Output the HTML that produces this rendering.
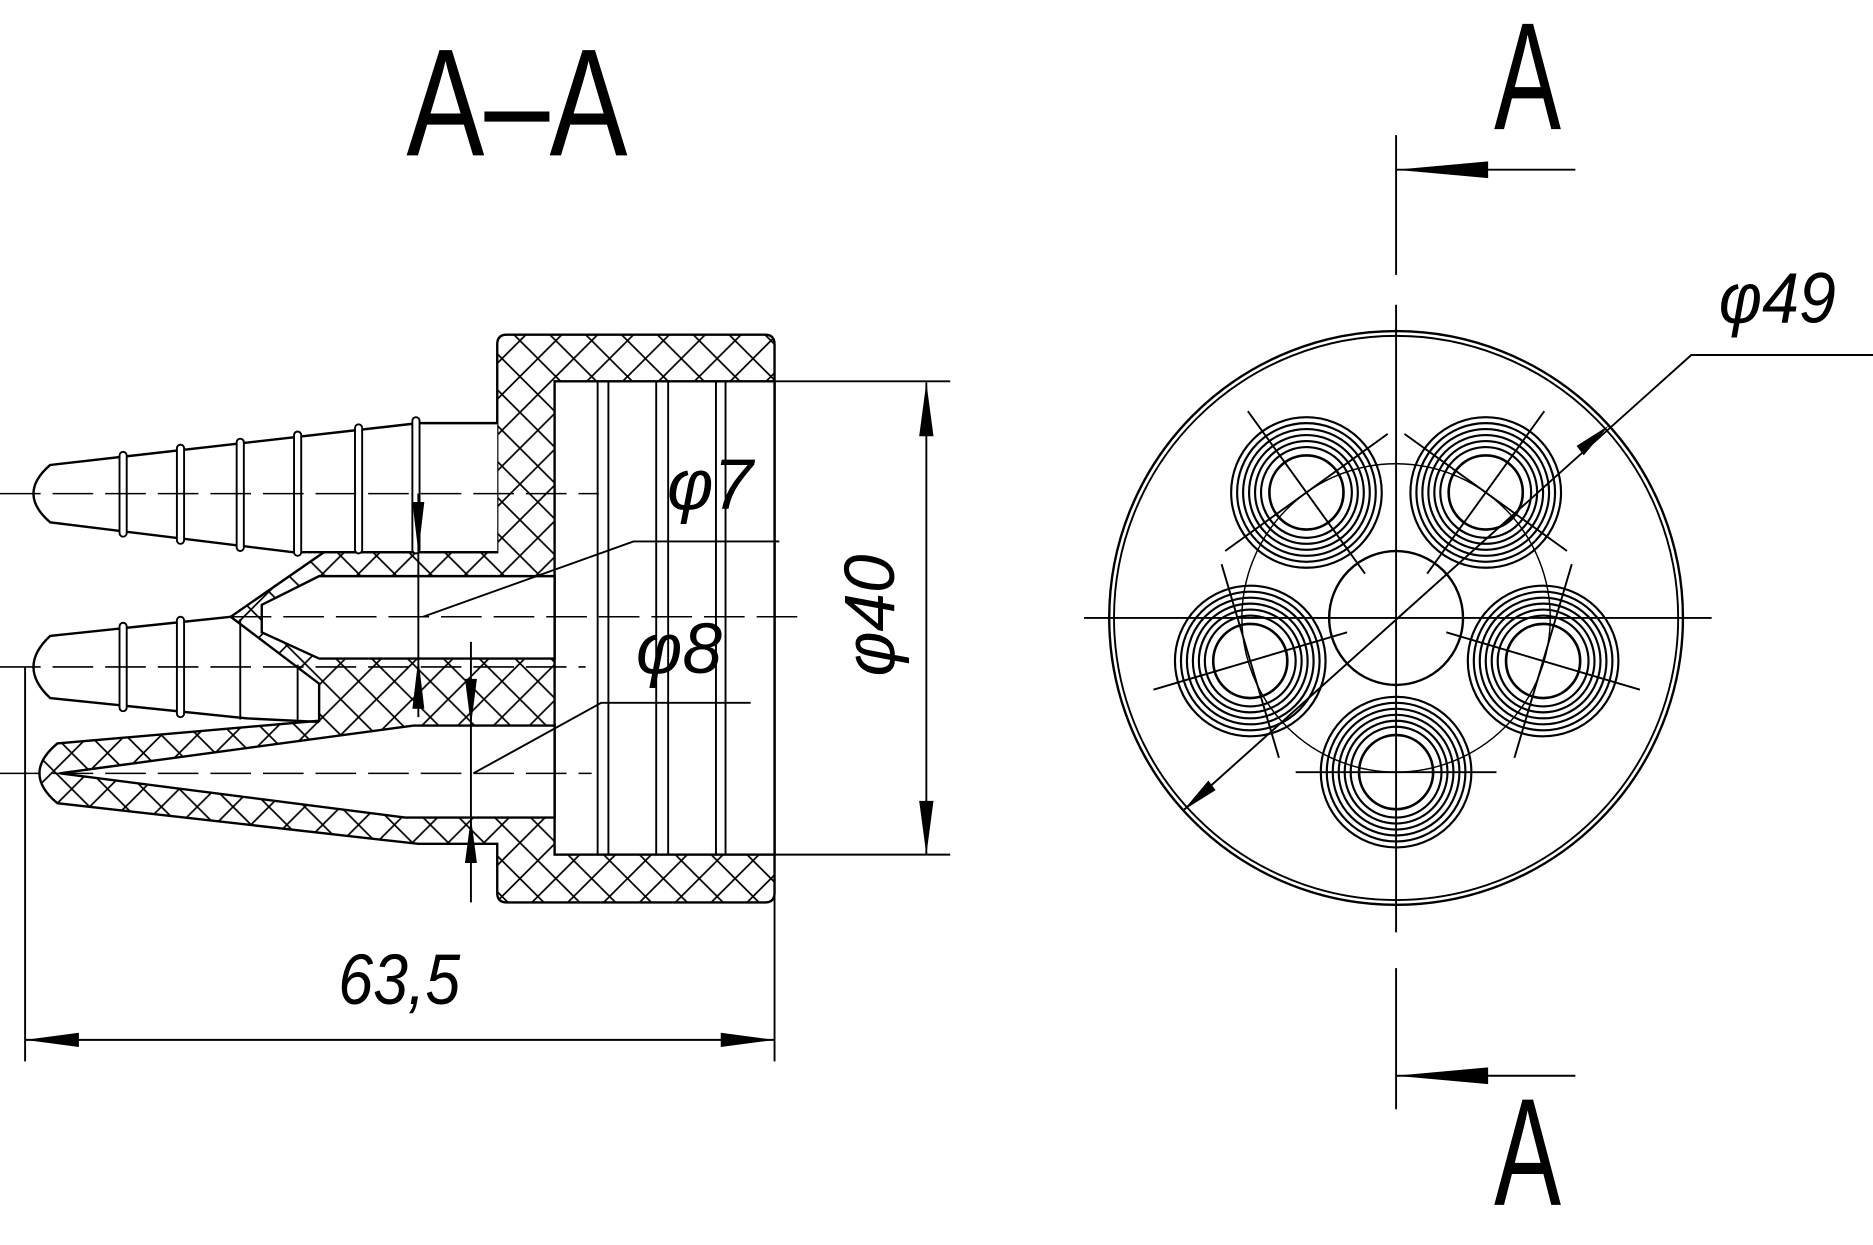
<!DOCTYPE html>
<html><head><meta charset="utf-8"><style>html,body{margin:0;padding:0;background:#fff}svg{display:block}</style></head>
<body>
<svg width="1873" height="1245" viewBox="0 0 1567 1041.6" xmlns="http://www.w3.org/2000/svg" font-family="Liberation Sans, sans-serif">
<defs>
<pattern id="h" patternUnits="userSpaceOnUse" width="30" height="30">
<path d="M0,0L30,30M0,30L30,0M-2,2L2,-2M28,32L32,28" stroke="#000" stroke-width="1.4"/>
</pattern>
</defs>
<rect width="1567" height="1042" fill="#fff"/>
<g stroke="#000" fill="none" stroke-width="1.6">
<path d="M424,280 L640,280 Q648,280 648,288 L648,747 Q648,755 640,755 L424,755 Q416,755 416,747 L416,706 L350,706 L48,672 Q18,647 48,622 L267,603 L267,572 L193,516 L271,462 L416,462 L416,288 Q416,280 424,280 Z" fill="url(#h)" stroke-width="2"/>
<rect x="464" y="319" width="184" height="396" fill="#fff" stroke-width="2"/>
<path d="M267,482 L464,482 L464,551 L267,551 L219,529 L219,506 Z" fill="#fff" stroke-width="2"/>
<path d="M50,647 L346,607 L464,607 L464,684 L339,684 Z" fill="#fff" stroke-width="2"/>
<path d="M500,319V715M509,319V715M549,319V715M559,319V715M599,319V715M607,319V715"/>
<path d="M416,354 L350,354 L42,389 Q14,413 42,437 L245,462 L416,462" fill="#fff" stroke-width="2"/>
<g fill="#fff">
<rect x="100" y="378" width="6" height="71" rx="3"/>
<rect x="148" y="372" width="6" height="83" rx="3"/>
<rect x="198" y="367" width="6" height="94" rx="3"/>
<rect x="246" y="361" width="6" height="104" rx="3"/>
<rect x="297" y="355" width="6" height="108" rx="3"/>
<rect x="345" y="349" width="6" height="114" rx="3"/>
</g>
<path d="M193,516 L42,532 Q14,558 42,584 L206,601 L267,604" stroke-width="2"/>
<g fill="#fff">
<rect x="100" y="521" width="6" height="74" rx="3"/>
<rect x="148" y="516" width="6" height="84" rx="3"/>
</g>
<path d="M201,518V602M249,556V604"/>
<g stroke-dasharray="34 10" stroke-width="1.3">
<path d="M0,413H501M0,558H490M193,516H670M0,647H495"/>
</g>
<path d="M648,319H795M648,715H795M775,320V715"/>
<path d="M21,558V888M648,715V888M21,870H648"/>
<path d="M350,413V600M354,516L530,453H652"/>
<path d="M394,537V755M396,647L503,588H628"/>
</g>
<g fill="#000">
<polygon points="775,320 769,365 781,365"/>
<polygon points="775,715 769,670 781,670"/>
<polygon points="21,870 66,864 66,876"/>
<polygon points="648,870 603,864 603,876"/>
<polygon points="350,462 345,420 355,420"/>
<polygon points="350,551 345,593 355,593"/>
<polygon points="394,607 389,568 399,568"/>
<polygon points="394,684 389,722 399,722"/>
</g>
<g font-style="italic" font-size="60" fill="#000">
<text x="558" y="426" textLength="72" lengthAdjust="spacingAndGlyphs">φ7</text>
<text x="532" y="563" textLength="72" lengthAdjust="spacingAndGlyphs">φ8</text>
<text x="283" y="840" textLength="102" lengthAdjust="spacingAndGlyphs">63,5</text>
<text transform="translate(748,566) rotate(-90)" textLength="102" lengthAdjust="spacingAndGlyphs">φ40</text>
<text x="1438" y="270" textLength="98" lengthAdjust="spacingAndGlyphs">φ49</text>
</g>
<g font-size="128" fill="#000">
<text x="340" y="130" textLength="185" lengthAdjust="spacingAndGlyphs">A–A</text>
<text x="1250" y="108" textLength="56" lengthAdjust="spacingAndGlyphs">A</text>
<text x="1250" y="1008" textLength="56" lengthAdjust="spacingAndGlyphs">A</text>
</g>
<g stroke="#000" fill="none" stroke-width="1.6">
<path d="M1168,113V230M1168,142H1318M1168,810V928M1168,900H1318"/>
<circle cx="1168" cy="517" r="240" stroke-width="2"/>
<circle cx="1168" cy="517" r="236"/>
<path d="M907,517H1432M1168,255V780"/>
<circle cx="1168" cy="517" r="56" stroke-width="2"/>
<circle cx="1168" cy="517" r="129" stroke-width="1.2"/>
<g stroke-width="1.8">
<circle cx="1093" cy="412" r="63"/><circle cx="1093" cy="412" r="58"/><circle cx="1093" cy="412" r="53"/><circle cx="1093" cy="412" r="48"/><circle cx="1093" cy="412" r="43"/><circle cx="1093" cy="412" r="38"/><circle cx="1093" cy="412" r="31" stroke-width="2.2"/>
<circle cx="1243" cy="412" r="63"/><circle cx="1243" cy="412" r="58"/><circle cx="1243" cy="412" r="53"/><circle cx="1243" cy="412" r="48"/><circle cx="1243" cy="412" r="43"/><circle cx="1243" cy="412" r="38"/><circle cx="1243" cy="412" r="31" stroke-width="2.2"/>
<circle cx="1046" cy="553" r="63"/><circle cx="1046" cy="553" r="58"/><circle cx="1046" cy="553" r="53"/><circle cx="1046" cy="553" r="48"/><circle cx="1046" cy="553" r="43"/><circle cx="1046" cy="553" r="38"/><circle cx="1046" cy="553" r="31" stroke-width="2.2"/>
<circle cx="1291" cy="553" r="63"/><circle cx="1291" cy="553" r="58"/><circle cx="1291" cy="553" r="53"/><circle cx="1291" cy="553" r="48"/><circle cx="1291" cy="553" r="43"/><circle cx="1291" cy="553" r="38"/><circle cx="1291" cy="553" r="31" stroke-width="2.2"/>
<circle cx="1168" cy="646" r="63"/><circle cx="1168" cy="646" r="58"/><circle cx="1168" cy="646" r="53"/><circle cx="1168" cy="646" r="48"/><circle cx="1168" cy="646" r="43"/><circle cx="1168" cy="646" r="38"/><circle cx="1168" cy="646" r="31" stroke-width="2.2"/>
</g>
<path d="M1044,344L1142,480M1161,363L1025,461M1292,344L1194,480M1311,461L1175,363M965,577L1127,529M1070,634L1022,472M1372,577L1210,529M1267,634L1315,472M1084,646H1252"/>
<path d="M990,678L1415,297H1567"/>
</g>
<g fill="#000">
<polygon points="1168,142 1245,135 1245,149"/>
<polygon points="1168,900 1245,893 1245,907"/>
<polygon points="1346,356 1325,381 1319,373"/>
<polygon points="990,678 1011,653 1017,661"/>
</g>
</svg>
</body></html>
